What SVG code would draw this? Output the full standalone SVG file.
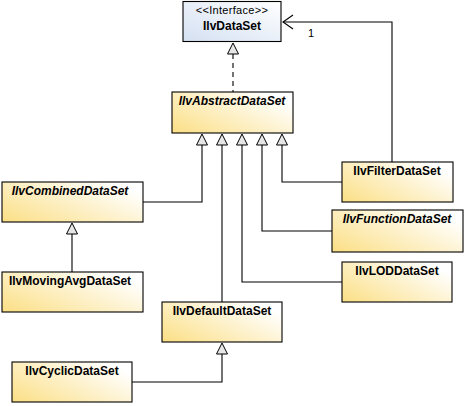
<svg xmlns="http://www.w3.org/2000/svg" width="466" height="406" viewBox="0 0 466 406">
<style>
.box{stroke:#000;stroke-width:1.1}
.y{fill:url(#gy)}
.b{fill:url(#gb)}
.t{font-family:"Liberation Sans",Arial,sans-serif;font-size:12px;font-weight:bold;text-anchor:middle;fill:#000}
.i{font-style:italic}
.s{font-family:"Liberation Sans",Arial,sans-serif;font-size:11px;text-anchor:middle;fill:#000}
.c{fill:none;stroke:#000;stroke-width:1.1}
.d{stroke-dasharray:5,4}
.tri{fill:#e6e6e6;stroke:#000;stroke-width:1}
</style>
<defs>
<linearGradient id="gy" x1="0" y1="1" x2="1" y2="0.3">
<stop offset="0" stop-color="#fbdf85"/>
<stop offset="1" stop-color="#ffffff"/>
</linearGradient>
<linearGradient id="gb" x1="0" y1="1" x2="1" y2="0">
<stop offset="0" stop-color="#d4e0f2"/>
<stop offset="1" stop-color="#ffffff"/>
</linearGradient>
</defs>

<g id="connectors">
<path class="c d" d="M233,95 V54"/>
<path class="tri" d="M233,43 L227.5,54 L238.5,54 Z"/>
<path class="c" d="M392,162 V22 H283"/>
<path class="c" d="M293,15 L283,22 L293,29"/>
<text x="311" y="37" class="s">1</text>
<path class="c" d="M143,202 H202 V145"/>
<path class="c" d="M222,302 V145"/>
<path class="c" d="M342,282 H242 V145"/>
<path class="c" d="M332,231 H262 V145"/>
<path class="c" d="M342,182 H282 V145"/>
<path class="tri" d="M202,134 L196.5,145 L207.5,145 Z"/>
<path class="tri" d="M222,134 L216.5,145 L227.5,145 Z"/>
<path class="tri" d="M242,134 L236.5,145 L247.5,145 Z"/>
<path class="tri" d="M262,134 L256.5,145 L267.5,145 Z"/>
<path class="tri" d="M282,134 L276.5,145 L287.5,145 Z"/>
<path class="c" d="M72,272 V234"/>
<path class="tri" d="M72,223 L66.5,234 L77.5,234 Z"/>
<path class="c" d="M132,382 H222 V354"/>
<path class="tri" d="M222,343 L216.5,354 L227.5,354 Z"/>
</g>

<g id="IlvDataSet">
<rect x="183" y="1.5" width="98" height="40" class="box b"/>
<text x="232" y="14" class="s" letter-spacing="0.3">&lt;&lt;Interface&gt;&gt;</text>
<text x="232" y="30" class="t">IlvDataSet</text>
</g>

<g id="IlvAbstractDataSet">
<rect x="172" y="92" width="121" height="41" class="box y"/>
<text x="232" y="105" class="t i">IlvAbstractDataSet</text>
</g>

<g id="IlvCombinedDataSet">
<rect x="2" y="182" width="141" height="40" class="box y"/>
<text x="70" y="195" class="t i">IlvCombinedDataSet</text>
</g>

<g id="IlvMovingAvgDataSet">
<rect x="2" y="272" width="141" height="40" class="box y"/>
<text x="70" y="285" class="t">IlvMovingAvgDataSet</text>
</g>

<g id="IlvDefaultDataSet">
<rect x="162" y="302" width="120" height="40" class="box y"/>
<text x="222" y="315" class="t">IlvDefaultDataSet</text>
</g>

<g id="IlvCyclicDataSet">
<rect x="12" y="362" width="120" height="40" class="box y"/>
<text x="72" y="375" class="t">IlvCyclicDataSet</text>
</g>

<g id="IlvFilterDataSet">
<rect x="342" y="162" width="111" height="40" class="box y"/>
<text x="397" y="175" class="t">IlvFilterDataSet</text>
</g>

<g id="IlvFunctionDataSet">
<rect x="332" y="210" width="131" height="42" class="box y"/>
<text x="397" y="223" class="t i">IlvFunctionDataSet</text>
</g>

<g id="IlvLODDataSet">
<rect x="342" y="262" width="110" height="40" class="box y"/>
<text x="397" y="275" class="t">IlvLODDataSet</text>
</g>
</svg>
